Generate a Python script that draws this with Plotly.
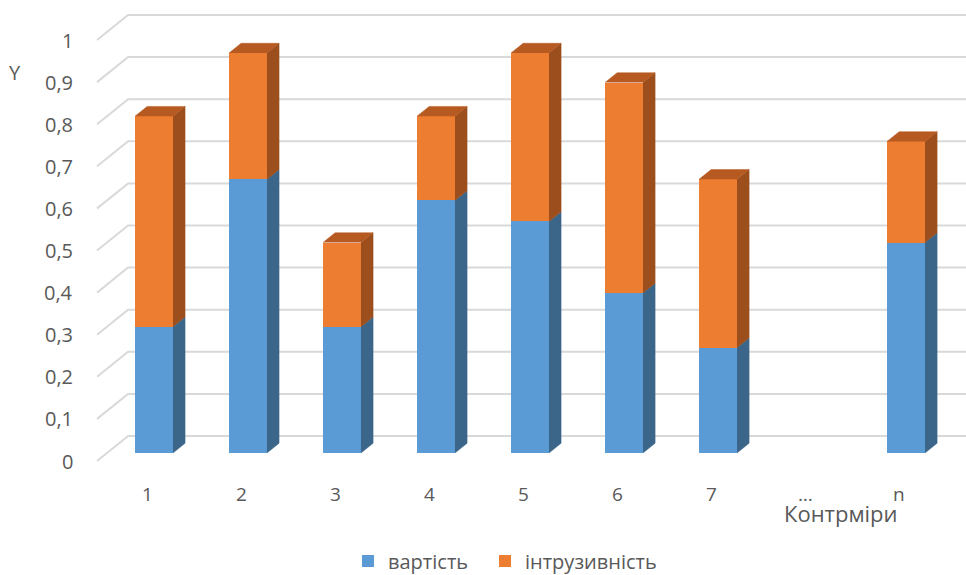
import plotly.graph_objects as go

# ---- data -------------------------------------------------------------
categories = ["1", "2", "3", "4", "5", "6", "7", "…", "n"]
cost = [0.30, 0.65, 0.30, 0.60, 0.55, 0.38, 0.25, 0.0, 0.50]           # вартість
intrusiveness = [0.50, 0.30, 0.20, 0.20, 0.40, 0.50, 0.40, 0.0, 0.24]  # інтрузивність
series_names = ["вартість", "інтрузивність"]
y_ticks = [0, 0.1, 0.2, 0.3, 0.4, 0.5, 0.6, 0.7, 0.8, 0.9, 1.0]
y_tick_labels = ["0", "0,1", "0,2", "0,3", "0,4", "0,5", "0,6", "0,7", "0,8", "0,9", "1"]
x_title = "Контрміри"
y_title = "Y"

# ---- styling ----------------------------------------------------------
FONT = "Open Sans"
TEXT = "#595959"
GRID = "#D9D9D9"
FRONT = ["#5B9BD5", "#ED7D31"]
SIDE = ["#3B6689", "#9C4F1D"]
TOP = ["#4A7FB0", "#B65A22"]
LEGENDS = ["legend", "legend2"]

# simple oblique projection used for the 3-D look
WALL_DX = 0.33      # x shift (category units) across full depth
WALL_DV = 0.0594    # y shift (value units) across full depth
BAR_D0, BAR_D1 = 0.32, 0.71   # front / back depth of the columns
HALF_W = 0.202
WALL_X = -0.5
RIGHT_X = 8.42


def proj(x, v, d):
    return x + (d - BAR_D0) * WALL_DX, v + (d - BAR_D0) * WALL_DV


fig = go.Figure()

# front faces (stacked columns)
for vals, name, col, lg in zip([cost, intrusiveness], series_names, FRONT, LEGENDS):
    fig.add_trace(go.Bar(
        x=list(range(len(categories))), y=vals, name=name, width=2 * HALF_W,
        marker=dict(color=col, line=dict(width=0)), legend=lg,
    ))

# side and top faces
side_paths = [([], []), ([], [])]
top_paths = [([], []), ([], [])]
for i in range(len(categories)):
    segs = [(0.0, cost[i]), (cost[i], cost[i] + intrusiveness[i])]
    for k, (lo, hi) in enumerate(segs):
        if hi - lo <= 0:
            continue
        xr = i + HALF_W
        for (xx, vv, dd) in [(xr, lo, BAR_D0), (xr, lo, BAR_D1), (xr, hi, BAR_D1), (xr, hi, BAR_D0)]:
            px, pv = proj(xx, vv, dd)
            side_paths[k][0].append(px)
            side_paths[k][1].append(pv)
        side_paths[k][0].append(None)
        side_paths[k][1].append(None)
    total = cost[i] + intrusiveness[i]
    if total > 0:
        k = 1 if intrusiveness[i] > 0 else 0
        for (xx, dd) in [(i - HALF_W, BAR_D0), (i - HALF_W, BAR_D1), (i + HALF_W, BAR_D1), (i + HALF_W, BAR_D0)]:
            px, pv = proj(xx, total, dd)
            top_paths[k][0].append(px)
            top_paths[k][1].append(pv)
        top_paths[k][0].append(None)
        top_paths[k][1].append(None)

for k in range(2):
    for paths, cols in [(side_paths, SIDE), (top_paths, TOP)]:
        xs, ys = paths[k]
        if not xs:
            continue
        fig.add_trace(go.Scatter(
            x=xs, y=ys, mode="lines", fill="toself", fillcolor=cols[k],
            line=dict(width=0.5, color=cols[k]), showlegend=False, hoverinfo="skip",
        ))

# gridlines on the left wall and back wall
shapes = []
annotations = []
for t, lab in zip(y_ticks, y_tick_labels):
    fx, fv = proj(WALL_X, t, 0.0)
    bx, bv = proj(WALL_X, t, 1.0)
    ex, ev = proj(RIGHT_X, t, 1.0)
    shapes.append(dict(type="path", xref="x", yref="y", layer="below",
                       path=f"M {fx},{fv} L {bx},{bv} L {ex},{ev}",
                       line=dict(color=GRID, width=2)))
    annotations.append(dict(x=fx, y=fv, xref="x", yref="y", text=lab, showarrow=False,
                            xanchor="right", yanchor="middle", xshift=-22,
                            font=dict(family=FONT, size=20, color=TEXT)))

for i, c in enumerate(categories):
    cx, cv = proj(i, 0.0, 0.0)
    annotations.append(dict(x=cx, y=cv, xref="x", yref="y", text=c, showarrow=False,
                            xanchor="center", yanchor="middle", xshift=3, yshift=-33,
                            font=dict(family=FONT, size=19, color=TEXT)))

annotations.append(dict(x=841 / 966, y=1 - 513 / 575, xref="paper", yref="paper",
                        text=x_title, showarrow=False, xanchor="center", yanchor="middle",
                        font=dict(family=FONT, size=22, color=TEXT)))
annotations.append(dict(x=15 / 966, y=1 - 72 / 575, xref="paper", yref="paper",
                        text=y_title, showarrow=False, xanchor="center", yanchor="middle",
                        font=dict(family=FONT, size=20, color=TEXT)))

legend_style = dict(orientation="h", y=1 - 561 / 575, xanchor="left", yanchor="middle",
                    font=dict(family=FONT, size=20, color=TEXT), bgcolor="rgba(0,0,0,0)",
                    itemclick=False)

fig.update_layout(
    width=966, height=575, autosize=False,
    margin=dict(l=0, r=0, t=0, b=0, autoexpand=False),
    paper_bgcolor="white", plot_bgcolor="white",
    barmode="stack", bargap=0,
    xaxis=dict(range=[-1.638, 8.638], visible=False, fixedrange=True),
    yaxis=dict(range=[-0.2898, 1.076], visible=False, fixedrange=True),
    shapes=shapes, annotations=annotations,
    showlegend=True,
    legend=dict(x=348 / 966, **legend_style),
    legend2=dict(x=485 / 966, **legend_style),
)

fig.write_html("out.html")
